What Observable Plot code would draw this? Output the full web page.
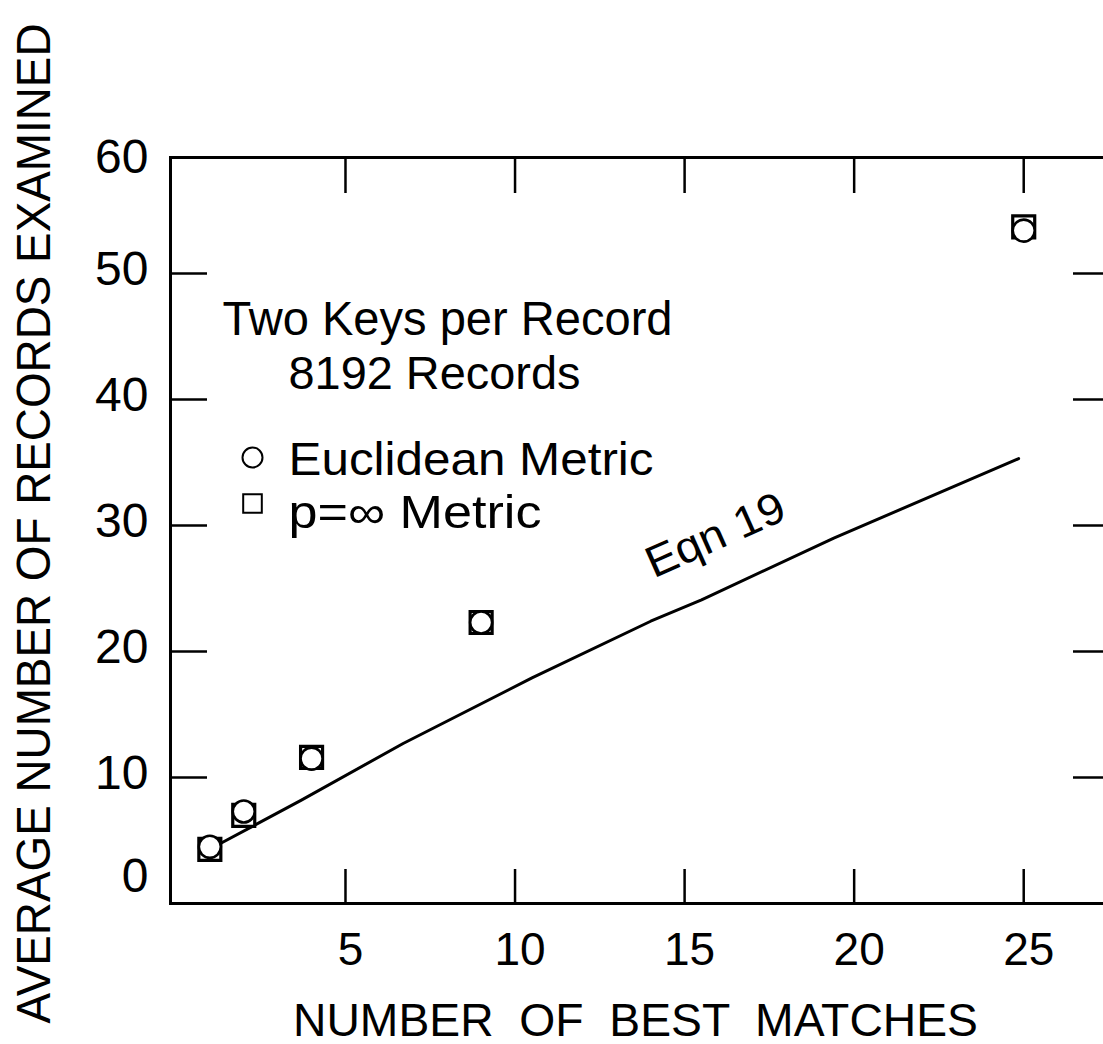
<!DOCTYPE html>
<html><head><meta charset="utf-8">
<script src="https://cdn.jsdelivr.net/npm/d3@7"></script>
<script src="https://cdn.jsdelivr.net/npm/@observablehq/plot@0.6"></script>
<style>
html,body{margin:0;padding:0;background:#fff;overflow:hidden;}
#chart svg{max-width:none !important;}
svg text{font-family:"Liberation Sans",Arial,sans-serif;font-weight:normal;}
</style></head><body><div id="chart"></div>
<script>
// ---- data ----
const matches = [1, 2, 4, 9, 25];
const euclidean = [4.5, 7.3, 11.5, 22.3, 53.4];
const pInfinity = [4.3, 7.0, 11.6, 22.3, 53.7];
const eqn19X = [1.2, 3.7, 6.7, 10.5, 14.0, 15.5, 19.4, 24.85];
const eqn19Y = [4.6, 8.2, 12.7, 17.9, 22.4, 24.1, 29.0, 35.3];
const xTicks = [5, 10, 15, 20, 25];
const yTicks = [10, 20, 30, 40, 50];
const yBottomTick = [0];
const yTopTick = [60];
const legendTitle = ["Two Keys per Record", "8192 Records"];
const seriesNames = ["Euclidean Metric", "p=\u221E Metric"];
const curveLabel = "Eqn 19";
const xLabel = "NUMBER  OF  BEST  MATCHES";
const yLabel = "AVERAGE NUMBER OF RECORDS EXAMINED";

// ---- layout / style ----
const W = 1115, H = 1044;
const mL = 170, mT = 157, mR = 7, mB = 141;
const pw = W - mL - mR, ph = H - mT - mB;
const ink = "#000";

const euc = matches.map((x, i) => ({x, y: euclidean[i]}));
const pinf = matches.map((x, i) => ({x, y: pInfinity[i]}));
const curve = eqn19X.map((x, i) => ({x, y: eqn19Y[i]}));

const chart = Plot.plot({
  width: W, height: H,
  marginLeft: mL, marginTop: mT, marginRight: mR, marginBottom: mB,
  style: {background: "#fff", color: ink, fontFamily: '"Liberation Sans", Arial, sans-serif', overflow: "visible"},
  x: {domain: [-0.16, 27.5]},
  y: {domain: [0, 59.2]},
  marks: [
    Plot.frame({stroke: ink, strokeWidth: 3}),
    Plot.ruleX(xTicks, {x: d => d, stroke: ink, strokeWidth: 2.5, insetBottom: ph - 36}),
    Plot.ruleX(xTicks, {x: d => d, stroke: ink, strokeWidth: 2.5, insetTop: ph - 34}),
    Plot.ruleY(yTicks, {y: d => d, stroke: ink, strokeWidth: 2.5, insetRight: pw - 37}),
    Plot.ruleY(yTicks, {y: d => d, stroke: ink, strokeWidth: 2.5, insetLeft: pw - 35}),
    Plot.axisX(xTicks, {tickSize: 0, tickPadding: 29, fontSize: 46, dx: 5, label: null}),
    Plot.axisY(yTicks, {tickSize: 0, tickPadding: 22, fontSize: 48, dy: -4, label: null}),
    Plot.text(yBottomTick, {y: d => d, text: d => String(d), frameAnchor: "left", textAnchor: "end", lineAnchor: "middle", dx: -22, dy: -27, fontSize: 48}),
    Plot.text(yTopTick, {y: d => d, text: d => String(d), frameAnchor: "left", textAnchor: "end", lineAnchor: "middle", dx: -22, dy: 10, fontSize: 48}),
    Plot.line(curve, {x: "x", y: "y", stroke: ink, strokeWidth: 3}),
    Plot.dot(pinf, {x: "x", y: "y", symbol: "square", r: 12.4, stroke: ink, strokeWidth: 3.2, fill: "#fff"}),
    Plot.dot(euc, {x: "x", y: "y", symbol: "circle", r: 11, stroke: ink, strokeWidth: 2.6, fill: "#fff"}),
    // legend / annotations
    Plot.text([legendTitle[0]], {text: d => d, frameAnchor: "top-left", textAnchor: "start", lineAnchor: "bottom", dx: 52, dy: 177, fontSize: 48}),
    Plot.text([legendTitle[1]], {text: d => d, frameAnchor: "top-left", textAnchor: "start", lineAnchor: "bottom", dx: 118, dy: 231, fontSize: 46}),
    Plot.dot([seriesNames[0]], {frameAnchor: "top-left", dx: 82, dy: 300, symbol: "circle", r: 10, stroke: ink, strokeWidth: 2, fill: "none"}),
    Plot.dot([seriesNames[1]], {frameAnchor: "top-left", dx: 82, dy: 346, symbol: "square", r: 10.5, stroke: ink, strokeWidth: 2, fill: "none"}),
    Plot.text([seriesNames[0]], {text: d => d, frameAnchor: "top-left", textAnchor: "start", lineAnchor: "bottom", dx: 118, dy: 317, fontSize: 46}),
    Plot.text([seriesNames[1]], {text: d => d, frameAnchor: "top-left", textAnchor: "start", lineAnchor: "bottom", dx: 118, dy: 370, fontSize: 46}),
    Plot.text([curveLabel], {text: d => d, frameAnchor: "top-left", textAnchor: "middle", lineAnchor: "middle", dx: 545, dy: 378, rotate: -24, fontSize: 44}),
    Plot.text([xLabel], {text: d => d, frameAnchor: "top-left", textAnchor: "middle", lineAnchor: "bottom", dx: 465, dy: 878, fontSize: 46}),
    Plot.text([yLabel], {text: d => d, frameAnchor: "top-left", textAnchor: "middle", lineAnchor: "bottom", dx: -121, dy: 366, rotate: -90, fontSize: 48})
  ]
});

// fit widths of hand-lettered strings
const fits = new Map([
  [legendTitle[0], 450], [legendTitle[1], 292],
  [seriesNames[0], 365], [seriesNames[1], 253],
  [curveLabel, 148], [xLabel, 685], [yLabel, 1000]
]);
d3.select(chart).selectAll("text").each(function () {
  const w = fits.get(this.textContent);
  if (w) d3.select(this).attr("textLength", w).attr("lengthAdjust", "spacingAndGlyphs");
});
document.getElementById("chart").appendChild(chart);
</script></body></html>
